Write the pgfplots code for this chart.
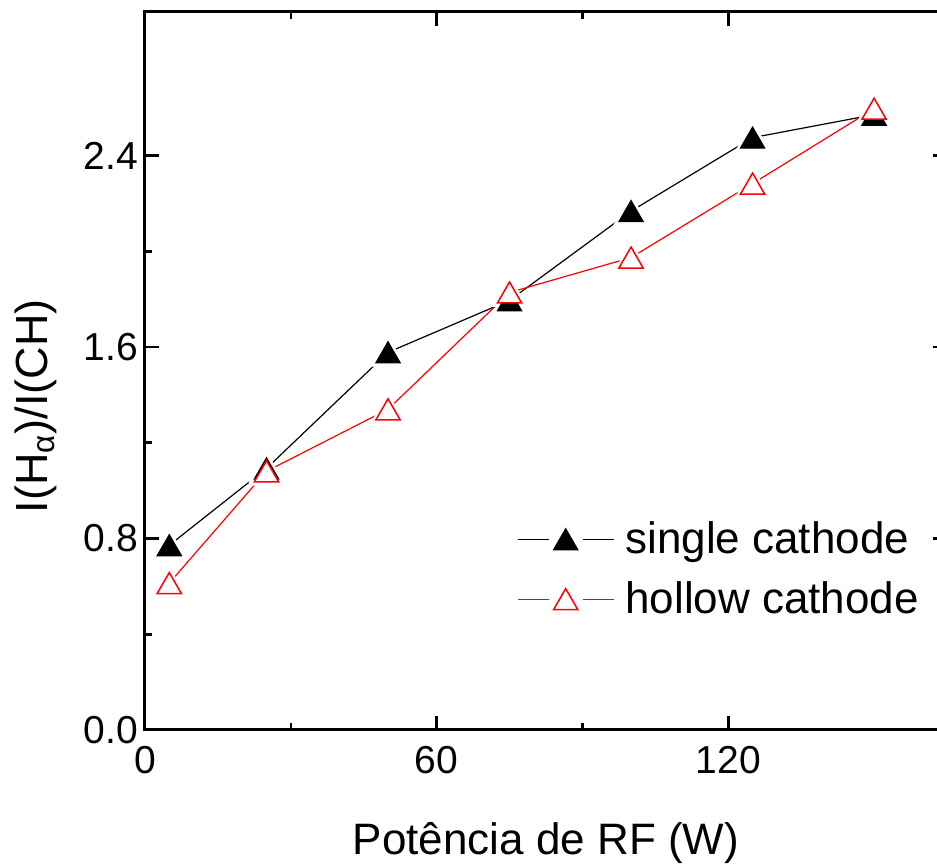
\documentclass[border=0pt]{standalone}
\usepackage{fontspec}
\setmainfont{Liberation Sans}
\usepackage{pgfplots}
\usepackage{pgfplotstable}
\pgfplotsset{compat=1.18}
\pgfplotstableread{
x y
5 0.772
25 1.093
50 1.578
75 1.795
100 2.168
125 2.475
150 2.571
}\single
\pgfplotstableread{
x y
5 0.614
25 1.081
50 1.340
75 1.828
100 1.974
125 2.283
150 2.596
}\hollow
\begin{document}
\begin{tikzpicture}
\useasboundingbox (-72.5pt,-68pt) rectangle (396pt,365pt);
\begin{axis}[
  at={(0,0)}, anchor=south west,
  scale only axis, width=401pt, height=359pt,
  xmin=0, xmax=165, ymin=0, ymax=3.0,
  xtick={0,60,120}, minor x tick num=1,
  ytick={0,0.8,1.6,2.4}, minor y tick num=1,
  tick align=inside,
  major tick length=7pt, minor tick length=3.5pt,
  every tick/.style={black, line width=1.3pt},
  axis line style={line width=1.5pt},
  xtick pos=both, ytick pos=both,
  /pgf/number format/assume math mode=true,
  ticklabel style={font=\fontsize{19.5}{22}\selectfont},
  yticklabel style={/pgf/number format/fixed, /pgf/number format/fixed zerofill, /pgf/number format/precision=1},
  xticklabel style={yshift=-4.5pt},
  xlabel={Potência de RF (W)},
  xlabel style={font=\fontsize{22}{26}\selectfont, at={(axis description cs:0.5,0)}, anchor=base, yshift=-62.5pt},
  ylabel={I(H\textsubscript{α})/I(CH)},
  ylabel style={font=\fontsize{22.5}{26}\selectfont, at={(axis description cs:-0.121,0.451)}, anchor=base, rotate=0},
  legend style={at={(axis description cs:0.456,0.296)}, anchor=north west, draw=none, fill=none,
    font=\fontsize{22}{26}\selectfont, row sep=12.5pt,
    nodes={inner ysep=0pt, inner xsep=5.5pt}},
  legend cell align=left,
  legend image code/.code={
    \draw[#1] (0pt,0pt) -- (15.5pt,0pt);
    \draw[#1] (32.5pt,0pt) -- (48pt,0pt);
    \draw[#1, only marks] plot coordinates {(24pt,0pt)};
  },
]
% lines
\addplot[black, line width=0.6pt, forget plot] table {\single};
\addplot[red, line width=0.6pt, forget plot] table {\hollow};
% white halos for gaps
\addplot[only marks, mark=triangle*, mark size=10pt, mark options={white, fill=white, yshift=-2pt}, forget plot] table {\single};
\addplot[only marks, mark=triangle*, mark size=10pt, mark options={white, fill=white, yshift=-2pt}, forget plot] table {\hollow};
% markers
\addplot[black, line width=0.6pt, only marks, mark=triangle*, mark size=7pt, mark options={solid, fill=black, draw=black, yshift=-1.75pt}] table {\single};
\addplot[red, line width=0.6pt, only marks, mark=triangle*, mark size=7pt, mark options={solid, fill=white, draw=red, line width=0.75pt, yshift=-1.75pt}] table {\hollow};
\legend{single cathode, hollow cathode}
\end{axis}
\end{tikzpicture}
\end{document}
